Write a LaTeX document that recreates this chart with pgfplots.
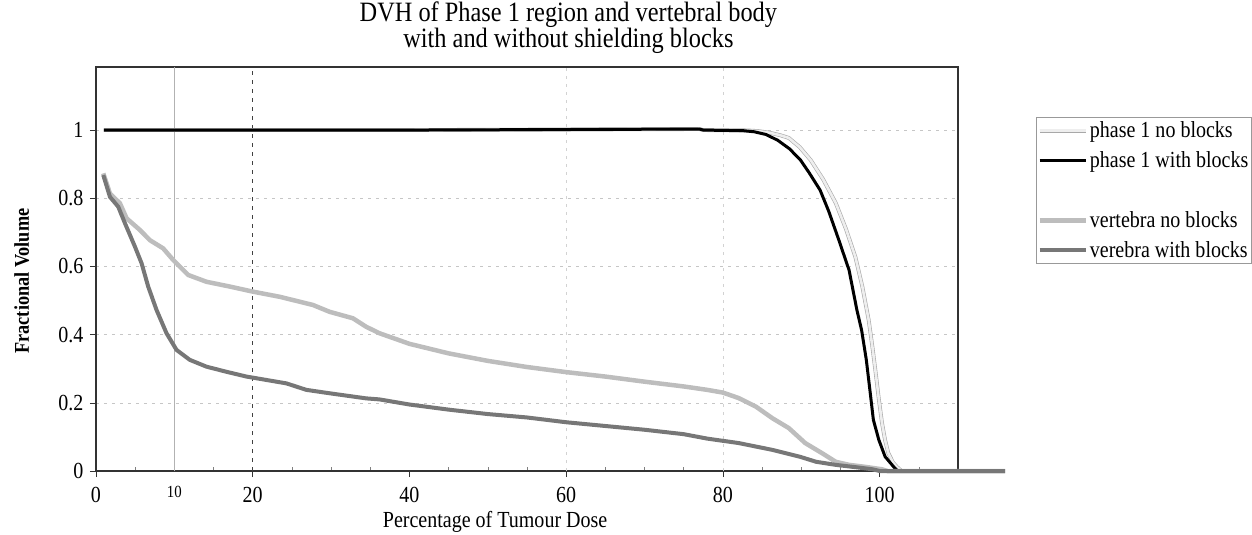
\documentclass[border=0pt]{standalone}
\usepackage{fontspec}
\setmainfont[FakeStretch=0.87]{Liberation Serif}
\usepackage{pgfplots}
\pgfplotsset{compat=1.18}
\definecolor{vlight}{HTML}{BDBDBD}
\definecolor{vdark}{HTML}{777777}
\definecolor{pedge}{HTML}{A8A8A8}
\definecolor{pfill}{HTML}{EEEEEE}
\begin{document}
\begin{tikzpicture}
\useasboundingbox (-96pt,-64pt) rectangle (1156pt,471pt);
\begin{axis}[
  scale only axis, width=862pt, height=404pt,
  xmin=0, xmax=110, ymin=0, ymax=1.185,
  clip=false,
  axis line style={draw=black!80, line width=1.1pt},
  /pgf/number format/assume math mode=true,
  tick label style={font=\fontsize{23}{26}\selectfont},
  xtick={0,20,40,60,80,100},
  minor xtick={5,10,15,25,30,35,45,50,55,65,70,75,85,90,95,105},
  xtick pos=lower, ytick pos=left,
  tick align=outside,
  major tick length=6pt, minor tick length=4pt,
  minor tick style={yshift=4pt, gray},
  tick style={black!80, line width=0.6pt},
  xticklabel style={yshift=-7pt},
  ytick={0,0.2,0.4,0.6,0.8,1},
  yticklabels={0,0.2,0.4,0.6,0.8,1},
  yticklabel style={xshift=-3pt},
  ymajorgrids, major grid style={gray!45, dash pattern=on 3pt off 5pt, line width=0.6pt},
  extra x ticks={10}, extra x tick labels={10},
  extra x tick style={major tick length=0pt, tick label style={font=\fontsize{17}{20}\selectfont, yshift=-5pt}},
  title={DVH of Phase 1 region and vertebral body\\with and without shielding blocks},
  title style={align=center, font=\fontsize{28}{26}\selectfont, at={(rel axis cs:0.548,1)}, anchor=south, yshift=4pt},
  xlabel={Percentage of Tumour Dose},
  xlabel style={font=\fontsize{23}{26}\selectfont, at={(rel axis cs:0.463,-0.126)}, anchor=center},
  ylabel={\textbf{Fractional Volume}},
  ylabel style={font=\fontsize{21}{24}\selectfont, at={(rel axis cs:-0.086,0.47)}, anchor=center, rotate=0},
  legend style={at={(rel axis cs:1.0905,0.875)}, anchor=north west, draw=gray!80, line width=0.8pt,
    font=\fontsize{23}{25}\selectfont, inner xsep=1pt, inner ysep=2pt, row sep=8.5pt,
    nodes={inner sep=2pt}, /tikz/every even column/.append style={column sep=3pt}},
  legend cell align=left,
  legend image code/.code={\draw[#1] (0pt,0pt) -- (46pt,0pt);},
]
% vertical grid lines
\draw[gray!60, line width=0.6pt] (axis cs:10,0) -- (axis cs:10,1.185);
\draw[black!75, line width=0.7pt, dash pattern=on 4pt off 5pt] (axis cs:20,0) -- (axis cs:20,1.185);
\draw[gray!35, line width=0.6pt, dash pattern=on 3pt off 5pt] (axis cs:60,0) -- (axis cs:60,1.185);
\draw[gray!35, line width=0.6pt, dash pattern=on 3pt off 5pt] (axis cs:80,0) -- (axis cs:80,1.185);

% phase 1 no blocks
\addplot[draw=pedge, double=pfill, double distance=2.6pt, line width=0.6pt] coordinates {
(1,1.0) (40,1.0) (77,1.003) (77.5,1.0) (83,0.999) (84.5,0.997) (86,0.992) (87.3,0.985)
(88.4,0.977) (89.8,0.95) (91.2,0.912) (92.8,0.855) (94.4,0.786) (95.7,0.71) (96.9,0.628)
(97.8,0.54) (98.6,0.443) (99.1,0.36) (99.5,0.287) (99.9,0.21) (100.3,0.141) (100.7,0.09)
(101.1,0.053) (101.7,0.025) (102.2,0.012) (102.8,0)};
\addlegendentry{phase 1 no blocks}

% phase 1 with blocks
\addplot[black, line width=3pt] coordinates {
(1,1.0) (40,1.0) (77,1.003) (77.5,1.0) (82.7,0.998) (84,0.995) (85.5,0.987) (87,0.97)
(88.5,0.945) (89.9,0.912) (91,0.875) (92.4,0.824) (93.5,0.762) (94.8,0.677) (96.1,0.589)
(97.1,0.472) (97.7,0.413) (98.3,0.326) (98.8,0.229) (99.2,0.15) (99.9,0.091)
(100.7,0.042) (101.8,0.012) (102.3,0)};
\addlegendentry{phase 1 with blocks}

\addlegendimage{empty legend}
\addlegendentry{\phantom{phase}}

% vertebra no blocks
\addplot[vlight, line width=4.5pt] coordinates {
(0.93,0.873) (1.78,0.814) (3.06,0.785) (3.91,0.741) (5.6,0.707) (6.88,0.677) (8.57,0.653)
(9.85,0.619) (11.76,0.575) (14.1,0.555) (17.07,0.541) (20.04,0.526) (23.44,0.511)
(27.68,0.487) (29.8,0.467) (32.78,0.448) (34.48,0.423) (36.18,0.404) (40,0.373)
(45,0.345) (50,0.323) (55,0.305) (60,0.29) (65,0.277) (70,0.262) (75,0.248) (78,0.238)
(80,0.23) (82,0.214) (84.2,0.189) (86.3,0.155) (88.4,0.126) (90.5,0.082) (92.6,0.053)
(94.4,0.027) (96.1,0.018) (98.2,0.012) (100.3,0.005) (101,0) (116,0)};
\addlegendentry{vertebra no blocks}

% vertebra with blocks
\addplot[vdark, line width=4pt] coordinates {
(0.93,0.868) (1.78,0.804) (2.84,0.775) (3.69,0.727) (4.97,0.658) (5.82,0.609) (6.66,0.541)
(7.73,0.472) (9.0,0.404) (10.28,0.355) (11.97,0.326) (14.1,0.306) (16.65,0.291)
(19.2,0.277) (21.75,0.267) (24.3,0.257) (26.84,0.238) (29.8,0.228) (34.48,0.213)
(36.18,0.21) (40,0.195) (45,0.18) (50,0.167) (55,0.157) (60,0.143) (65,0.132) (70,0.121)
(75,0.108) (78,0.095) (82,0.082) (86.3,0.062) (89.8,0.042) (91.9,0.027) (94.4,0.018)
(97,0.011) (99.1,0.005) (100,0) (116,0)};
\addlegendentry{verebra with blocks}
\end{axis}
\end{tikzpicture}
\end{document}
